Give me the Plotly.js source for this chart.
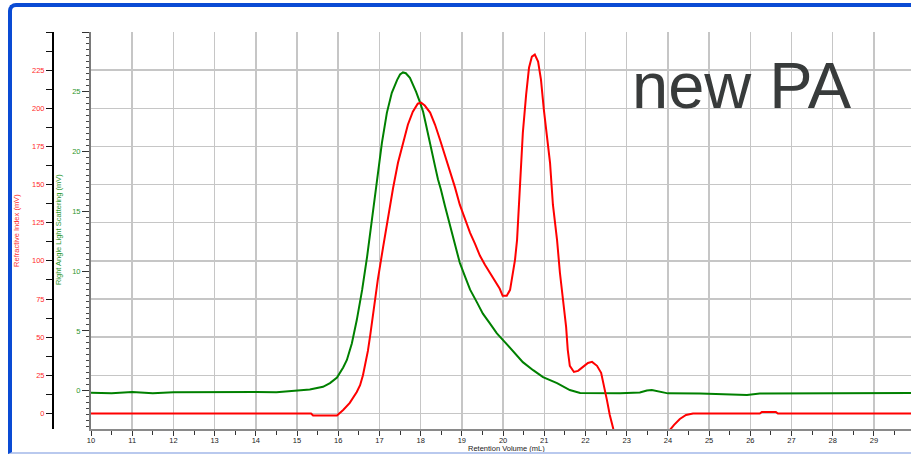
<!DOCTYPE html>
<html>
<head>
<meta charset="utf-8">
<script src="https://cdn.plot.ly/plotly-3.0.1.min.js"></script>
<style>
  html, body { margin: 0; padding: 0; background: #ffffff; overflow: hidden; }
  #chart { position: absolute; left: 0; top: 0; width: 911px; height: 454px; }
  #frame {
    position: absolute; left: 8px; top: 3px; width: 1000px; height: 445px;
    border-top: 4px solid #0a4bd4; border-left: 4px solid #0a4bd4;
    border-bottom: 2px solid #b9c9ee; border-top-left-radius: 8px;
    pointer-events: none; z-index: 10;
  }
</style>
</head>
<body>
<div id="chart"></div>
<div id="frame"></div>
<script>
// Refractive Index trace (red), retention volume in mL / signal in mV
const riX = [10.00, 15.34, 15.39, 15.97, 16.12, 16.28, 16.45, 16.53, 16.60, 16.66, 16.72, 16.78, 16.84, 16.90, 16.96, 17.09, 17.21, 17.33, 17.45, 17.57, 17.69, 17.81, 17.93, 18.01, 18.10, 18.23, 18.35, 18.47, 18.59, 18.71, 18.83, 18.95, 19.08, 19.20, 19.32, 19.44, 19.56, 19.68, 19.80, 19.92, 19.99, 20.09, 20.17, 20.24, 20.29, 20.34, 20.41, 20.48, 20.56, 20.63, 20.70, 20.77, 20.85, 20.92, 20.99, 21.07, 21.14, 21.21, 21.31, 21.38, 21.45, 21.53, 21.57, 21.62, 21.72, 21.82, 21.94, 22.06, 22.16, 22.28, 22.38, 22.45, 22.52, 22.59, 22.67, 22.72, 22.90, 23.80, 24.05, 24.15, 24.29, 24.44, 24.61, 26.23, 26.28, 26.62, 26.67, 29.90];
const riY = [0, 0, -1.3, -1.3, 2.3, 6.9, 14.1, 18.5, 25.0, 32.0, 41.0, 52.0, 64.0, 76.0, 87.6, 109.2, 129.9, 147.6, 164.3, 177.4, 189.2, 197.8, 203.0, 203.7, 201.8, 197.2, 189.2, 179.4, 169.5, 159.7, 148.5, 136.8, 126.9, 118.4, 111.2, 103.3, 97.4, 92.2, 86.9, 81.7, 77.1, 77.1, 81.0, 92.2, 100.7, 113.8, 146.6, 184.0, 208.9, 226.6, 233.9, 235.2, 230.6, 218.8, 199.1, 179.4, 164.3, 136.8, 113.8, 92.2, 74.4, 56.7, 41.7, 31.2, 27.2, 27.9, 30.5, 33.1, 33.8, 31.2, 26.6, 18.7, 8.9, -1.0, -9.5, -17.4, -60, -60, -10.8, -7.5, -3.6, -1.0, 0, 0, 1.0, 1.0, 0, 0];

// Right Angle Light Scattering trace (green)
const lsX = [10.00, 10.50, 11.00, 11.50, 12.00, 12.50, 13.00, 13.50, 14.00, 14.50, 15.00, 15.31, 15.63, 15.80, 15.97, 16.04, 16.12, 16.21, 16.33, 16.45, 16.58, 16.70, 16.82, 16.94, 17.06, 17.18, 17.30, 17.43, 17.50, 17.57, 17.64, 17.74, 17.81, 17.89, 17.98, 18.06, 18.13, 18.20, 18.27, 18.35, 18.42, 18.49, 18.59, 18.71, 18.83, 18.95, 19.08, 19.20, 19.37, 19.51, 19.68, 19.85, 20.05, 20.24, 20.48, 20.73, 20.97, 21.31, 21.62, 21.87, 22.35, 22.84, 23.32, 23.49, 23.61, 23.76, 24.00, 24.78, 25.92, 26.23, 27.20, 28.42, 29.90];
const lsY = [-0.17, -0.20, -0.10, -0.20, -0.12, -0.10, -0.12, -0.08, -0.10, -0.12, 0.00, 0.10, 0.33, 0.64, 1.10, 1.45, 1.95, 2.57, 3.95, 5.91, 8.43, 11.19, 14.28, 17.63, 20.73, 23.24, 24.91, 26.00, 26.45, 26.62, 26.55, 26.16, 25.66, 25.00, 24.16, 23.33, 22.25, 21.07, 20.01, 18.76, 17.68, 16.85, 15.44, 13.78, 12.28, 10.70, 9.53, 8.45, 7.37, 6.45, 5.63, 4.80, 4.05, 3.30, 2.39, 1.72, 1.14, 0.64, 0.06, -0.19, -0.22, -0.22, -0.15, 0.02, 0.06, -0.07, -0.22, -0.23, -0.36, -0.23, -0.22, -0.19, -0.19];

// Tick labels
const xTickVals = [10, 11, 12, 13, 14, 15, 16, 17, 18, 19, 20, 21, 22, 23, 24, 25, 26, 27, 28, 29];
const riTickVals = [0, 25, 50, 75, 100, 125, 150, 175, 200, 225];
const lsTickVals = [0, 5, 10, 15, 20, 25, 30];
const lsTickText = ['0', '5', '10', '15', '20', '25', ''];
const lsMidTicks = [-2.5, 2.5, 7.5, 12.5, 17.5, 22.5, 27.5];

const FONT = 'Liberation Sans, Arial, sans-serif';
const RED = '#ff0000';
const GREEN = '#008000';
const RED_TXT = '#ff2a2a';
const GREEN_TXT = '#2c962c';
const GRID = '#c6c6c6';

const traces = [
  { x: lsX, y: lsY, type: 'scatter', mode: 'lines', yaxis: 'y', xaxis: 'x',
    line: { color: GREEN, width: 2 }, hoverinfo: 'skip' },
  { x: riX, y: riY, type: 'scatter', mode: 'lines', yaxis: 'y2', xaxis: 'x',
    line: { color: RED, width: 2 }, hoverinfo: 'skip' }
];

const layout = {
  width: 911, height: 454,
  margin: { l: 0, r: 0, t: 32, b: 25, pad: 0 },
  paper_bgcolor: '#ffffff', plot_bgcolor: '#ffffff',
  showlegend: false,
  font: { family: FONT, size: 7.5, color: '#222222' },
  xaxis: {
    domain: [91 / 911, 1], range: [10, 29.9], anchor: 'y',
    tickmode: 'array', tickvals: xTickVals,
    ticks: 'outside', ticklen: 5, tickwidth: 1, tickcolor: '#333333',
    ticklabelstandoff: -2,
    minor: { dtick: 0.5, ticklen: 4, tickwidth: 1, tickcolor: '#333333', showgrid: false },
    showline: true, linecolor: '#8a8a8a', linewidth: 2,
    showgrid: true, gridcolor: GRID, gridwidth: 1.5, zeroline: false,
    tickfont: { family: FONT, size: 7.5, color: '#222222' },
    automargin: false
  },
  yaxis: {
    range: [-3.2, 30], anchor: 'x', side: 'left',
    tickmode: 'array', tickvals: lsTickVals, ticktext: lsTickText,
    ticks: 'outside', ticklen: 7, tickwidth: 1, tickcolor: '#333333',
    minor: { dtick: 0.5, ticklen: 3, tickwidth: 1, tickcolor: '#444444', showgrid: false },
    showline: true, linecolor: '#7a7a7a', linewidth: 2,
    showgrid: false, zeroline: false,
    tickfont: { family: FONT, size: 7.5, color: GREEN_TXT },
    automargin: false
  },
  yaxis3: {
    range: [-3.2, 30], anchor: 'x', overlaying: 'y', side: 'left',
    tickmode: 'array', tickvals: lsMidTicks,
    ticks: 'outside', ticklen: 5, tickwidth: 1, tickcolor: '#333333',
    showticklabels: false, showline: false, showgrid: false, zeroline: false,
    automargin: false
  },
  yaxis2: {
    range: [-10.2, 250], anchor: 'free', overlaying: 'y', side: 'left',
    position: 53 / 911,
    tickmode: 'array', tickvals: riTickVals,
    ticks: 'outside', ticklen: 6, tickwidth: 1, tickcolor: '#111111',
    minor: { dtick: 12.5, ticklen: 6, tickwidth: 1, tickcolor: '#111111', showgrid: false },
    showline: true, linecolor: '#000000', linewidth: 2,
    showgrid: true, gridcolor: GRID, gridwidth: 1.5, zeroline: false,
    tickfont: { family: FONT, size: 7.5, color: RED_TXT },
    automargin: false
  },
  annotations: [
    { text: 'new PA', xref: 'paper', yref: 'paper', x: 630 / 911, y: 0.866,
      xanchor: 'left', yanchor: 'middle', showarrow: false,
      font: { family: FONT, size: 65, color: '#383b3b' } },
    { text: 'Retention Volume (mL)', xref: 'paper', yref: 'paper', x: 506 / 911, y: -0.0479,
      xanchor: 'center', yanchor: 'middle', showarrow: false,
      font: { family: FONT, size: 7.5, color: '#222222' } },
    { text: 'Refractive Index (mV)', xref: 'paper', yref: 'paper', x: 17 / 911, y: 0.499,
      xanchor: 'center', yanchor: 'middle', textangle: -90, showarrow: false,
      font: { family: FONT, size: 7.5, color: RED_TXT } },
    { text: 'Right Angle Light Scattering (mV)', xref: 'paper', yref: 'paper', x: 58 / 911, y: 0.501,
      xanchor: 'center', yanchor: 'middle', textangle: -90, showarrow: false,
      font: { family: FONT, size: 7.5, color: GREEN_TXT } }
  ]
};

Plotly.newPlot('chart', traces, layout, { displayModeBar: false, staticPlot: true });
</script>
</body>
</html>
